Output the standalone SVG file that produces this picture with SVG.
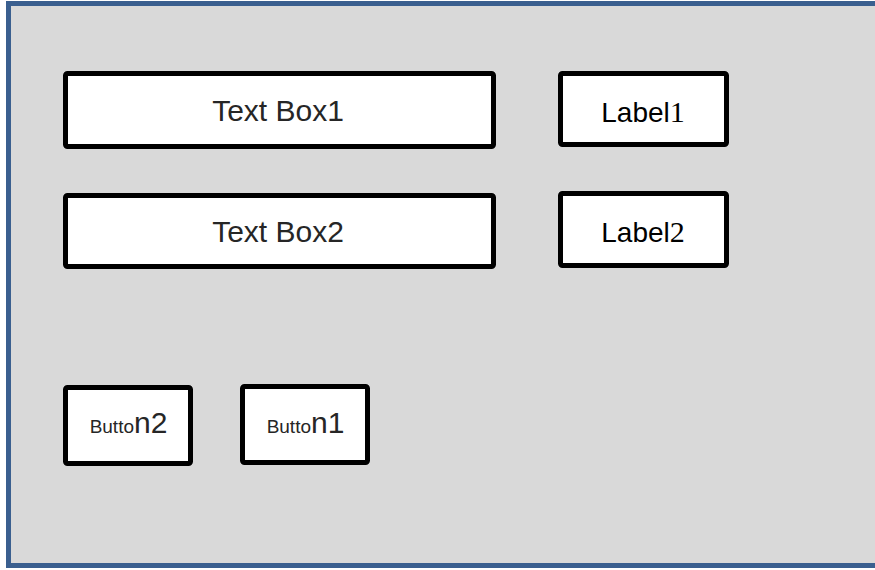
<svg xmlns="http://www.w3.org/2000/svg" width="875" height="570" viewBox="0 0 875 570">
<style>
.box{fill:#ffffff;stroke:#000000;stroke-width:5}
.t{font-family:"Liberation Sans",Arial,sans-serif;font-size:30px;fill:#262626;text-anchor:middle}
.lbl{font-family:"Liberation Sans",Arial,sans-serif;font-size:28px;fill:#000000;text-anchor:middle}
.serif{font-family:"Liberation Serif","Times New Roman",serif;font-size:30px}
.small{font-size:19px}
</style>
<rect x="8.5" y="3.5" width="880" height="562" fill="#d9d9d9" stroke="#3a5f8f" stroke-width="5"/>
<g id="textbox1">
<rect class="box" x="65.5" y="73.5" width="428" height="73" rx="2"/>
<text class="t" x="278" y="121">Text Box1</text>
</g>
<g id="label1">
<rect class="box" x="560.5" y="73.5" width="166" height="71" rx="2"/>
<text class="lbl" x="643" y="122">Label<tspan class="serif">1</tspan></text>
</g>
<g id="textbox2">
<rect class="box" x="65.5" y="195.5" width="428" height="71" rx="2"/>
<text class="t" x="278" y="242">Text Box2</text>
</g>
<g id="label2">
<rect class="box" x="560.5" y="193.5" width="166" height="72" rx="2"/>
<text class="lbl" x="643" y="242">Label<tspan class="serif">2</tspan></text>
</g>
<g id="button2">
<rect class="box" x="65.5" y="387.5" width="125" height="76" rx="2"/>
<text class="t" x="128.5" y="433" fill="#333"><tspan class="small">Butto</tspan>n2</text>
</g>
<g id="button1">
<rect class="box" x="242.5" y="386.5" width="125" height="76" rx="2"/>
<text class="t" x="305.5" y="433"><tspan class="small">Butto</tspan>n1</text>
</g>
<g id="connectors"></g>
</svg>
